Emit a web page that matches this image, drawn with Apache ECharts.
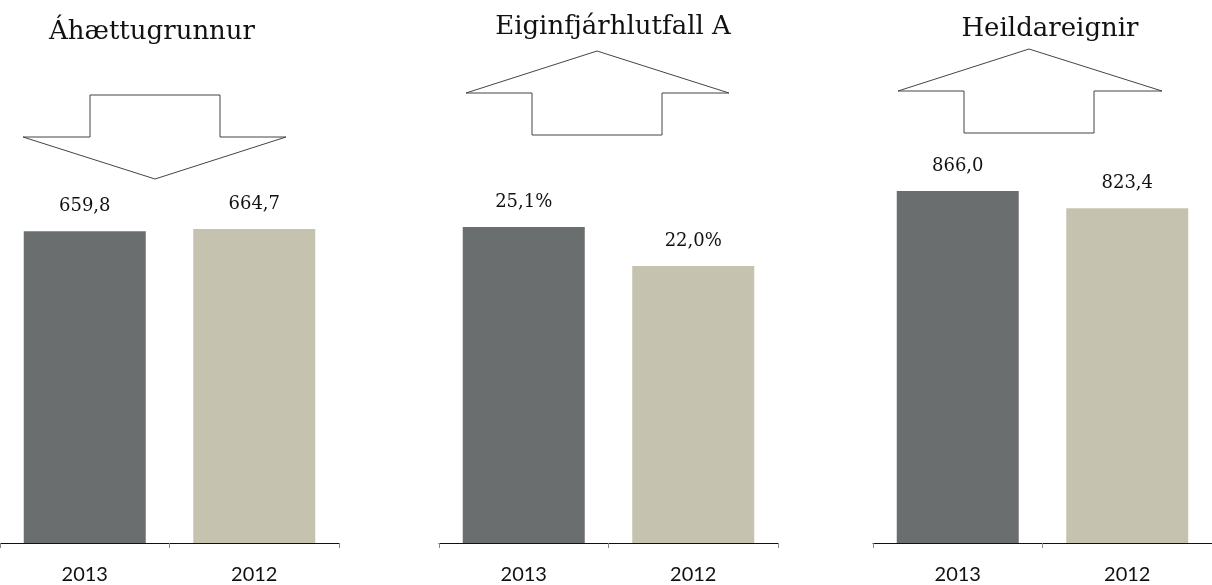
<!DOCTYPE html>
<html>
<head>
<meta charset="utf-8">
<script src="https://cdn.jsdelivr.net/npm/echarts@6/dist/echarts.min.js"></script>
<style>
html,body{margin:0;padding:0;background:#fff;}
#chart{width:1212px;height:585px;}
</style>
</head>
<body>
<div id="chart"></div>
<script>
// ---- Data ----
const categories = ['2013', '2012'];
const panelTitles = ['Áhættugrunnur', 'Eiginfjárhlutfall A', 'Heildareignir'];
const riskBase = [659.8, 664.7];      // Áhættugrunnur
const capitalRatioA = [25.1, 22.0];   // Eiginfjárhlutfall A (%)
const totalAssets = [866.0, 823.4];   // Heildareignir
const valueSuffixes = ['', '%', ''];
const panelValues = [riskBase, capitalRatioA, totalAssets];

const barColors = ['#6B6E6F', '#C5C3AF'];

// ---- Layout (styling only) ----
const grids = [
  { left: 0,   width: 339, top: 70.6,  bottom: 40 },
  { left: 439, width: 339, top: 165.3, bottom: 42 },
  { left: 873, width: 339, top: 136.5, bottom: 42 }
];
const yMax = [1000, 30, 1000];
const titleCenters = [147, 608, 1045];
const titleTops = [14, 9, 11];

const fmt = (v, suf) => v.toFixed(1).replace('.', ',') + suf;

const option = {
  animation: false,
  backgroundColor: '#ffffff',
  title: panelTitles.map((t, i) => ({
    text: t,
    left: titleCenters[i],
    top: titleTops[i],
    textAlign: 'center',
    textStyle: { fontFamily: 'DejaVu Serif', fontSize: 26, fontWeight: 'normal', color: '#111' }
  })),
  grid: grids,
  xAxis: grids.map((g, i) => ({
    type: 'category',
    gridIndex: i,
    data: categories,
    axisLine: { show: true, lineStyle: { color: '#111', width: 1 } },
    axisTick: { show: true, length: 5, lineStyle: { color: '#888' } },
    axisLabel: { margin: 22, fontFamily: 'Lato', fontSize: 20, color: '#111' }
  })),
  yAxis: grids.map((g, i) => ({
    type: 'value',
    gridIndex: i,
    min: 0,
    max: yMax[i],
    show: false,
    splitLine: { show: false }
  })),
  series: panelValues.map((vals, i) => ({
    type: 'bar',
    xAxisIndex: i,
    yAxisIndex: i,
    barWidth: 122,
    data: vals.map((v, j) => ({ value: v, itemStyle: { color: barColors[j] } })),
    label: {
      show: true,
      position: 'top',
      distance: 16,
      fontFamily: 'DejaVu Serif',
      fontSize: 18,
      color: '#111',
      formatter: p => fmt(p.value, valueSuffixes[i])
    }
  })),
  graphic: [
    // down arrow (panel 1)
    { type: 'polygon', shape: { points: [[90,95],[220,95],[220,137],[286,137],[155,179],[23,137],[90,137]] },
      style: { fill: '#fff', stroke: '#444', lineWidth: 1 } },
    // up arrow (panel 2)
    { type: 'polygon', shape: { points: [[532,135],[662,135],[662,93],[729,93],[597,51],[466,93],[532,93]] },
      style: { fill: '#fff', stroke: '#444', lineWidth: 1 } },
    // up arrow (panel 3)
    { type: 'polygon', shape: { points: [[964,133],[1094,133],[1094,91],[1162,91],[1029,49],[898,91],[964,91]] },
      style: { fill: '#fff', stroke: '#444', lineWidth: 1 } }
  ]
};

const chart = echarts.init(document.getElementById('chart'), null, { renderer: 'canvas' });
chart.setOption(option);
</script>
</body>
</html>
